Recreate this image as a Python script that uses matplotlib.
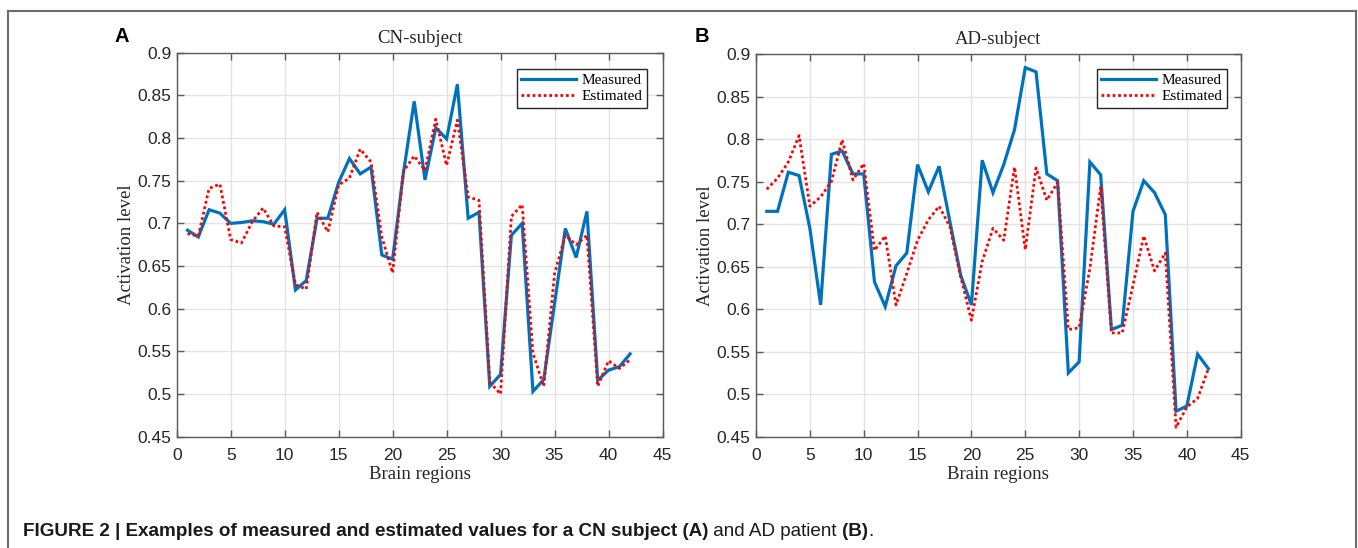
import numpy as np
import matplotlib
matplotlib.use("Agg")
import matplotlib.pyplot as plt
from matplotlib.lines import Line2D

regions = list(range(1, 43))

cn_measured = [0.692, 0.684, 0.716, 0.712, 0.700, 0.701, 0.703, 0.702, 0.699, 0.716,
               0.622, 0.633, 0.706, 0.706, 0.748, 0.776, 0.758, 0.766, 0.663, 0.658,
               0.759, 0.843, 0.751, 0.812, 0.799, 0.863, 0.706, 0.713, 0.509, 0.523,
               0.686, 0.700, 0.503, 0.517, 0.606, 0.694, 0.660, 0.714, 0.516, 0.528,
               0.532, 0.547]
cn_estimated = [0.688, 0.685, 0.741, 0.746, 0.681, 0.677, 0.702, 0.718, 0.697, 0.696,
                0.628, 0.623, 0.713, 0.690, 0.745, 0.753, 0.787, 0.772, 0.684, 0.642,
                0.761, 0.779, 0.762, 0.822, 0.768, 0.821, 0.731, 0.727, 0.514, 0.500,
                0.708, 0.722, 0.548, 0.509, 0.641, 0.686, 0.675, 0.686, 0.509, 0.539,
                0.530, 0.540]
ad_measured = [0.715, 0.715, 0.761, 0.757, 0.695, 0.605, 0.782, 0.786, 0.759, 0.759,
               0.632, 0.603, 0.651, 0.666, 0.770, 0.738, 0.768, 0.703, 0.640, 0.605,
               0.775, 0.737, 0.770, 0.811, 0.884, 0.879, 0.759, 0.751, 0.525, 0.538,
               0.773, 0.758, 0.576, 0.581, 0.715, 0.751, 0.737, 0.711, 0.480, 0.486,
               0.547, 0.530]
ad_estimated = [0.741, 0.754, 0.773, 0.804, 0.721, 0.732, 0.750, 0.799, 0.752, 0.771,
                0.669, 0.686, 0.605, 0.642, 0.681, 0.705, 0.721, 0.697, 0.638, 0.587,
                0.656, 0.695, 0.681, 0.767, 0.670, 0.766, 0.728, 0.749, 0.576, 0.578,
                0.648, 0.744, 0.572, 0.572, 0.628, 0.686, 0.645, 0.666, 0.461, 0.485,
                0.495, 0.530]

panels = [
    ("A", "CN-subject", cn_measured, cn_estimated),
    ("B", "AD-subject", ad_measured, ad_estimated),
]
x_ticks = [0, 5, 10, 15, 20, 25, 30, 35, 40, 45]
y_ticks = [0.45, 0.5, 0.55, 0.6, 0.65, 0.7, 0.75, 0.8, 0.85, 0.9]
y_tick_labels = ["0.45", "0.5", "0.55", "0.6", "0.65", "0.7", "0.75", "0.8", "0.85", "0.9"]

W, H = 1358, 548
fig = plt.figure(figsize=(W / 100, H / 100), dpi=100)

SERIF = "Liberation Serif"
SANS = "Liberation Sans"
BLUE = "#0072BD"
RED = "#FF0000"
TICKC = "#262626"
SPINE = "#5a5a5a"

# outer frame
fc = "#6b6b6b"
fig.add_artist(Line2D([8 / W, 8 / W], [0, 1 - 10.7 / H], transform=fig.transFigure, color=fc, lw=1.5))
fig.add_artist(Line2D([8 / W, 1356 / W], [1 - 10.7 / H, 1 - 10.7 / H], transform=fig.transFigure, color=fc, lw=1.5))
fig.add_artist(Line2D([1356 / W, 1356 / W], [0, 1 - 10.7 / H], transform=fig.transFigure, color=fc, lw=1.5))

axes_px = [(176.7, 52.7, 662.5, 436.7), (756.0, 54.0, 1240.7, 436.7)]
legend_px = [(647.0, 69.0), (1227.0, 69.0)]
letter_px = [(122, 36), (702, 36)]

for (letter, title, meas, est), (x0, y0, x1, y1), (lx, ly), (tx, ty) in zip(
        panels, axes_px, legend_px, letter_px):
    ax = fig.add_axes([x0 / W, 1 - y1 / H, (x1 - x0) / W, (y1 - y0) / H])
    ax.plot(regions, meas, color=BLUE, lw=2.3, label="Measured", solid_joinstyle="miter")
    ax.plot(regions, est, color=RED, lw=2.0, ls=(0, (1, 1)), label="Estimated")
    ax.set_xlim(0, 45)
    ax.set_ylim(0.45, 0.9)
    ax.set_xticks(x_ticks)
    ax.set_yticks(y_ticks)
    ax.set_yticklabels(y_tick_labels)
    ax.grid(True, color="#e3e3e3", lw=1.0)
    ax.set_axisbelow(True)
    ax.tick_params(direction="in", top=True, right=True, length=5, width=1,
                   color=SPINE, labelcolor=TICKC, labelsize=12.5)
    ax.tick_params(axis="x", pad=8)
    ax.tick_params(axis="y", pad=4)
    for lab in ax.get_xticklabels() + ax.get_yticklabels():
        lab.set_fontfamily(SANS)
    for s in ax.spines.values():
        s.set_color(SPINE)
        s.set_linewidth(1.0)
    ax.set_title(title, fontfamily=SERIF, fontsize=13.5, color="#262626", pad=7)
    ax.set_xlabel("Brain regions", fontfamily=SERIF, fontsize=13.5, color="#262626", labelpad=2)
    ax.set_ylabel("Activation level", fontfamily=SERIF, fontsize=13.5, color="#262626", labelpad=1.5)
    leg = ax.legend(loc="upper right",
                    bbox_to_anchor=((lx - x0) / (x1 - x0), 1 - (ly - y0) / (y1 - y0)),
                    borderaxespad=0, prop={"family": SERIF, "size": 11},
                    fancybox=False, framealpha=1, edgecolor="#262626",
                    handlelength=3.6, handletextpad=0.35, borderpad=0.3,
                    labelspacing=0.15)
    leg.get_frame().set_linewidth(1.0)
    fig.text(tx / W, 1 - ty / H, letter, fontfamily=SANS, fontweight="bold",
             fontsize=14.5, ha="center", va="center", color="black")

# caption with mixed weights
cap_parts = [
    ("FIGURE 2 | Examples of measured and estimated values for a CN subject (A)", "bold"),
    (" and AD patient ", "normal"),
    ("(B)", "bold"),
    (".", "normal"),
]
fig.canvas.draw()
renderer = fig.canvas.get_renderer()
xpos = 23
for txt, wt in cap_parts:
    t = fig.text(xpos / W, 1 - 531 / H, txt, fontfamily=SANS, fontweight=wt,
                 fontsize=13.6, ha="left", va="center", color="#1a1a1a")
    bb = t.get_window_extent(renderer=renderer)
    xpos += bb.width

fig.savefig("out.png", dpi=100)
